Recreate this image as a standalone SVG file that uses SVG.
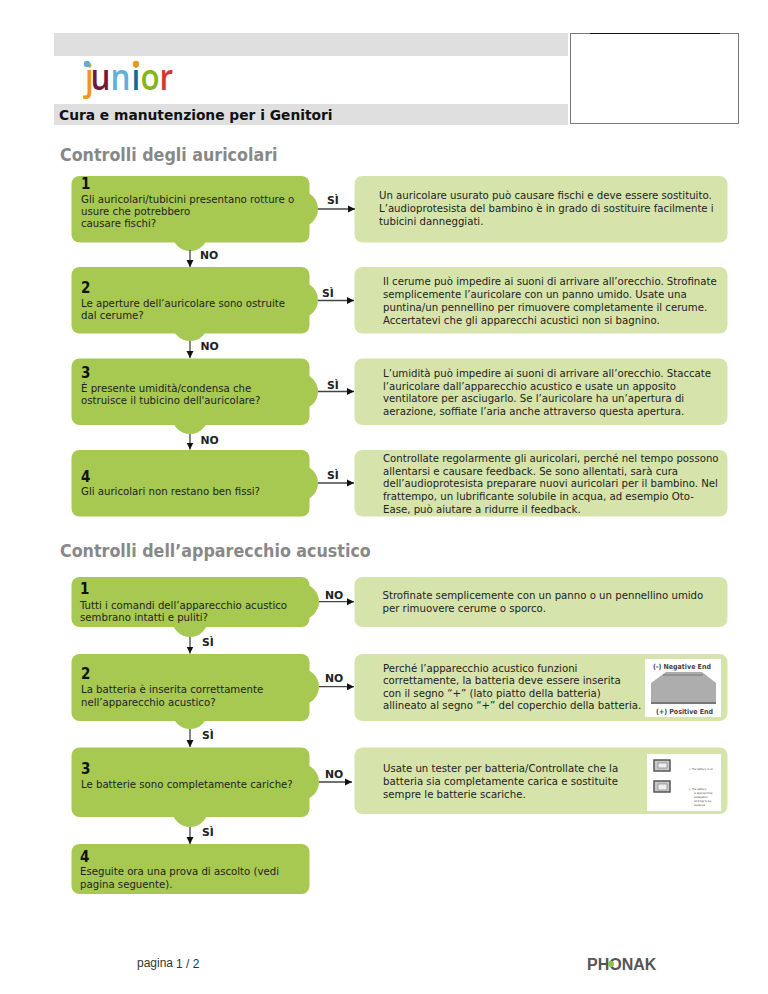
<svg xmlns="http://www.w3.org/2000/svg" width="768" height="994" viewBox="0 0 768 994">
<style>
text{font-family:"DejaVu Sans Condensed","DejaVu Sans","Liberation Sans",sans-serif;fill:#222}
.q{fill:#a8c951}.a{fill:#d6e4ac}
.t{font-size:11.300px}
.n{font-size:15px;font-weight:bold;fill:#111}
.l{font-size:10.800px;font-weight:bold;fill:#222;font-family:"DejaVu Sans",sans-serif}
.h{font-size:17.700px;font-weight:bold;fill:#888}
.c{stroke:#444;stroke-width:1.300;fill:none;marker-end:url(#ah)}
.logo{font-family:"Open Sans",sans-serif;font-size:37px;font-weight:600}
.g{fill:#dfdfdf}
.tiny{font-size:2.800px;fill:#444}
.bt{font-size:7px;fill:#444;font-weight:bold}
</style>
<defs>
<marker id="ah" markerUnits="userSpaceOnUse" markerWidth="8" markerHeight="8" refX="7" refY="4" orient="auto"><path d="M0 0.5L7 4L0 7.5z" fill="#111"/></marker>
</defs>
<g id="header">
<rect class="g" x="54" y="33" width="514" height="23"/>
<rect class="g" x="54" y="104" width="514" height="21"/>
<rect x="570.500" y="33.500" width="168" height="90" fill="#fff" stroke="#777"/>
<line x1="590" y1="33.500" x2="720" y2="33.500" stroke="#111"/>
<text x="59" y="120" style="font-family:'DejaVu Sans',sans-serif;font-size:13.800px;font-weight:bold;fill:#111">Cura e manutenzione per i Genitori</text>
</g>
<g id="logo">
<text class="logo" transform="translate(0,90) scale(.85,1)" x="100 106.500 130 154.700 165.300 187.600" y="0"><tspan style="fill:#f0951f">j</tspan><tspan style="fill:#6e1a3c">u</tspan><tspan style="fill:#5fb0d8">n</tspan><tspan style="fill:#0a6d9a">i</tspan><tspan style="fill:#85b51e">o</tspan><tspan style="fill:#d0392b">r</tspan></text>
<circle cx="87" cy="64" r="3.200" fill="#5fb0d8"/>
<circle cx="136" cy="64" r="3.200" fill="#f0951f"/>
</g>
<text x="60" y="161" class="h">Controlli degli auricolari</text>
<text x="60" y="557" class="h">Controlli dell’apparecchio acustico</text>

<g id="q1">
<rect class="q" x="71.500" y="176" width="238" height="66.500" rx="8"/><circle class="q" cx="300" cy="209" r="18"/><circle class="q" cx="190" cy="233" r="18"/>
<text class="n" x="81" y="188.500">1</text>
<text class="t" x="81" y="202.700">Gli auricolari/tubicini presentano rotture o</text>
<text class="t" x="81" y="215">usure che potrebbero</text>
<text class="t" x="81" y="227.300">causare fischi?</text>
</g>
<g id="a1">
<rect class="a" x="354.500" y="176" width="373" height="66.500" rx="8"/>
<text class="t" x="379" y="199">Un auricolare usurato può causare fischi e deve essere sostituito.</text>
<text class="t" x="379" y="212">L’audioprotesista del bambino è in grado di sostituire facilmente i</text>
<text class="t" x="379" y="225">tubicini danneggiati.</text>
</g>
<g id="q2">
<rect class="q" x="71.500" y="267" width="238" height="66.500" rx="8"/><circle class="q" cx="300" cy="300" r="18"/><circle class="q" cx="190" cy="323" r="18"/>
<text class="n" x="81" y="292.700">2</text>
<text class="t" x="81" y="306.700">Le aperture dell’auricolare sono ostruite</text>
<text class="t" x="81" y="318.700">dal cerume?</text>
</g>
<g id="a2">
<rect class="a" x="354.500" y="267" width="373" height="66.500" rx="8"/>
<text class="t" x="383" y="285.300">Il cerume può impedire ai suoni di arrivare all’orecchio. Strofinate</text>
<text class="t" x="383" y="298">semplicemente l’auricolare con un panno umido. Usate una</text>
<text class="t" x="383" y="311">puntina/un pennellino per rimuovere completamente il cerume.</text>
<text class="t" x="383" y="324">Accertatevi che gli apparecchi acustici non si bagnino.</text>
</g>
<g id="q3">
<rect class="q" x="71.500" y="358.500" width="238" height="66.500" rx="8"/><circle class="q" cx="300" cy="391.500" r="18"/><circle class="q" cx="190" cy="416" r="18"/>
<text class="n" x="81" y="377.700">3</text>
<text class="t" x="81" y="391.700">È presente umidità/condensa che</text>
<text class="t" x="81" y="404.300">ostruisce il tubicino dell'auricolare?</text>
</g>
<g id="a3">
<rect class="a" x="354.500" y="358.500" width="373" height="66.500" rx="8"/>
<text class="t" x="383" y="376.700">L’umidità può impedire ai suoni di arrivare all’orecchio. Staccate</text>
<text class="t" x="383" y="389.500">l’auricolare dall’apparecchio acustico e usate un apposito</text>
<text class="t" x="383" y="402.300">ventilatore per asciugarlo. Se l’auricolare ha un’apertura di</text>
<text class="t" x="383" y="415">aerazione, soffiate l’aria anche attraverso questa apertura.</text>
</g>
<g id="q4">
<rect class="q" x="71.500" y="450" width="238" height="66.500" rx="8"/><circle class="q" cx="300" cy="483" r="18"/>
<text class="n" x="81" y="481.700">4</text>
<text class="t" x="81" y="495.300">Gli auricolari non restano ben fissi?</text>
</g>
<g id="a4">
<rect class="a" x="354.500" y="450" width="373" height="66.500" rx="8"/>
<text class="t" x="383" y="461.700">Controllate regolarmente gli auricolari, perché nel tempo possono</text>
<text class="t" x="383" y="474.500">allentarsi e causare feedback. Se sono allentati, sarà cura</text>
<text class="t" x="383" y="487.300">dell’audioprotesista preparare nuovi auricolari per il bambino. Nel</text>
<text class="t" x="383" y="500">frattempo, un lubrificante solubile in acqua, ad esempio Oto-</text>
<text class="t" x="383" y="512.800">Ease, può aiutare a ridurre il feedback.</text>
</g>

<g id="q5">
<rect class="q" x="71.500" y="577" width="238" height="50" rx="8"/><circle class="q" cx="301" cy="601.700" r="18"/><circle class="q" cx="190" cy="619" r="18"/>
<text class="n" x="80" y="594.300">1</text>
<text class="t" x="80" y="608.700">Tutti i comandi dell’apparecchio acustico</text>
<text class="t" x="80" y="620.700">sembrano intatti e puliti?</text>
</g>
<g id="a5">
<rect class="a" x="354.500" y="577" width="373" height="50" rx="8"/>
<text class="t" x="382.500" y="599.300">Strofinate semplicemente con un panno o un pennellino umido</text>
<text class="t" x="382.500" y="612">per rimuovere cerume o sporco.</text>
</g>
<g id="q6">
<rect class="q" x="71.500" y="654" width="238" height="67" rx="8"/><circle class="q" cx="301" cy="686.700" r="18"/><circle class="q" cx="190" cy="711" r="18"/>
<text class="n" x="81" y="679.300">2</text>
<text class="t" x="81" y="693.300">La batteria è inserita correttamente</text>
<text class="t" x="81" y="705.700">nell’apparecchio acustico?</text>
</g>
<g id="a6">
<rect class="a" x="354.500" y="654" width="373" height="67" rx="8"/>
<text class="t" x="383" y="671.700">Perché l’apparecchio acustico funzioni</text>
<text class="t" x="383" y="684.300">correttamente, la batteria deve essere inserita</text>
<text class="t" x="383" y="697">con il segno “+” (lato piatto della batteria)</text>
<text class="t" x="383" y="709.300">allineato al segno “+” del coperchio della batteria.</text>
<rect x="645" y="659" width="76" height="58" fill="#fff"/>
<path d="M651 704V683L666 672H702L716 683V704z" fill="#adadad"/>
<path d="M651 703h65" stroke="#777" stroke-width="2"/>
<path d="M663 675H703" stroke="#8a8a8a" stroke-width="1.500"/>
<text class="bt" x="653" y="668.500">(-) Negative End</text>
<text class="bt" x="656" y="713.500">(+) Positive End</text>
</g>
<g id="q7">
<rect class="q" x="71.500" y="747.500" width="238" height="69.500" rx="8"/><circle class="q" cx="301" cy="782" r="18"/><circle class="q" cx="190" cy="809" r="18"/>
<text class="n" x="81" y="774.300">3</text>
<text class="t" x="81" y="788.300">Le batterie sono completamente cariche?</text>
</g>
<g id="a7">
<rect class="a" x="354.500" y="747.500" width="373" height="66.500" rx="8"/>
<text class="t" x="383" y="772">Usate un tester per batteria/Controllate che la</text>
<text class="t" x="383" y="785">batteria sia completamente carica e sostituite</text>
<text class="t" x="383" y="798">sempre le batterie scariche.</text>
<rect x="647" y="754" width="74" height="57" fill="#fff"/>
<rect x="654" y="760" width="16" height="11" fill="#c8c8c8" stroke="#555" stroke-width="1.500"/>
<rect x="658" y="763" width="9" height="5" fill="#eee" stroke="#777" stroke-width=".6"/>
<rect x="654" y="781" width="16" height="11" fill="#c8c8c8" stroke="#555" stroke-width="1.500"/>
<rect x="658" y="784" width="9" height="6" fill="#eee" stroke="#777" stroke-width=".6"/>
<text class="tiny" x="689" y="770">▷  The battery is ok</text>
<text class="tiny" x="689" y="790">▷  The battery</text>
<text class="tiny" x="694" y="794">is approaching</text>
<text class="tiny" x="694" y="798">exhaustion</text>
<text class="tiny" x="694" y="802">and has to be</text>
<text class="tiny" x="694" y="806">replaced.</text>
</g>
<g id="q8">
<rect class="q" x="71.500" y="844" width="238" height="50" rx="8"/>
<text class="n" x="80" y="861.700">4</text>
<text class="t" x="80" y="875">Eseguite ora una prova di ascolto (vedi</text>
<text class="t" x="80" y="887.700">pagina seguente).</text>
</g>

<g id="connectors">
<line class="c" x1="318" y1="209" x2="355" y2="209"/>
<line class="c" x1="318" y1="300.500" x2="354" y2="300.500"/>
<line class="c" x1="318" y1="391.500" x2="354" y2="391.500"/>
<line class="c" x1="318" y1="483" x2="354" y2="483"/>
<line class="c" x1="319" y1="601.700" x2="354" y2="601.700"/>
<line class="c" x1="319" y1="686.700" x2="354" y2="686.700"/>
<line class="c" x1="319" y1="782" x2="352" y2="782"/>
<line class="c" x1="190" y1="250" x2="190" y2="267"/>
<line class="c" x1="190" y1="341" x2="190" y2="358"/>
<line class="c" x1="190" y1="434" x2="190" y2="449.500"/>
<line class="c" x1="190" y1="637" x2="190" y2="653.500"/>
<line class="c" x1="190" y1="729" x2="190" y2="747"/>
<line class="c" x1="190" y1="827" x2="190" y2="844"/>
<text class="l" x="327" y="204">SÌ</text>
<text class="l" x="322" y="296.700">SÌ</text>
<text class="l" x="327" y="389">SÌ</text>
<text class="l" x="327" y="479">SÌ</text>
<text class="l" x="200" y="259.300">NO</text>
<text class="l" x="200.500" y="350">NO</text>
<text class="l" x="200.500" y="444">NO</text>
<text class="l" x="325" y="599">NO</text>
<text class="l" x="325" y="682">NO</text>
<text class="l" x="325" y="777.700">NO</text>
<text class="l" x="202" y="646">SÌ</text>
<text class="l" x="202" y="739">SÌ</text>
<text class="l" x="202" y="836">SÌ</text>
</g>

<g id="footer">
<text x="137" y="966.500" style="font-family:'Liberation Sans',sans-serif;font-size:12px;fill:#333">pagina</text>
<text x="176" y="968" style="font-family:'Liberation Sans',sans-serif;font-size:12px;fill:#333">1 / 2</text>
<text x="587" y="969.500" style="font-family:'Liberation Sans',sans-serif;font-size:16px;font-weight:bold;fill:#555">PHONAK</text>
<circle cx="611" cy="964" r="3" fill="#8cc63f"/>
</g>
</svg>
